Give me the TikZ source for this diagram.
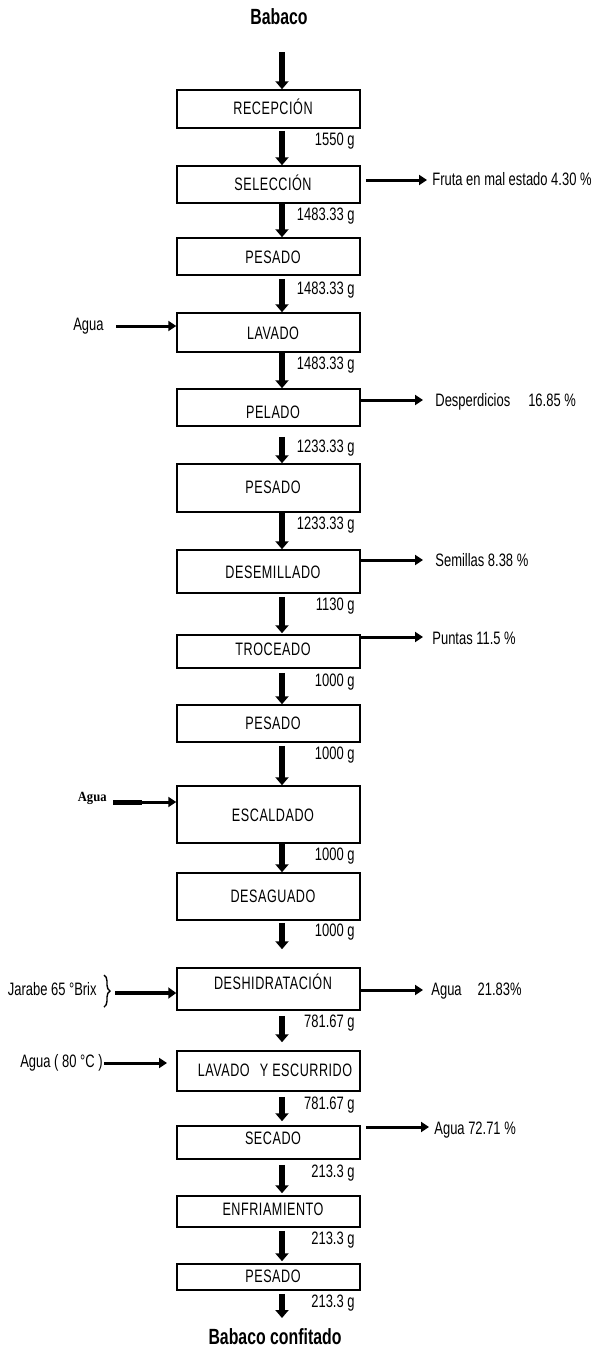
\documentclass[tikz,border=0pt]{standalone}
\usepackage{fontspec}
\setmainfont{Liberation Sans}[FakeStretch=0.72]
\newfontfamily\boxfont{Liberation Sans}[FakeStretch=0.7,LetterSpace=3]
\newfontfamily\agserif{Liberation Serif}[FakeStretch=0.9]
\usetikzlibrary{arrows.meta,calc,decorations.pathreplacing}
\begin{document}
\begin{tikzpicture}[x=0.5pt,y=-0.5pt,
  box/.style={draw, line width=0.75pt, inner sep=0, minimum width=91.5pt},
  btxt/.style={inner sep=0, font=\boxfont\fontsize{9}{10}\selectfont},
  lbl/.style={inner sep=0, anchor=east, text height=6.5pt, text depth=1.8pt, font=\fontsize{9}{10}\selectfont},
  stxt/.style={inner sep=0, anchor=west, text height=6.5pt, text depth=1.8pt, font=\fontsize{9}{10}\selectfont},
  ltxt/.style={inner sep=0, anchor=east, text height=6.5pt, text depth=1.8pt, font=\fontsize{9}{10}\selectfont},
  title/.style={inner sep=0, font=\fontsize{11}{13}\selectfont\bfseries},
  mainarrow/.style={line width=3pt, -{Triangle[width=6.5pt,length=4pt]}},
  sidearrow/.style={line width=1.5pt, -{Triangle[width=5pt,length=4pt]}},
  thickarrow/.style={line width=2.2pt, -{Triangle[width=5.5pt,length=4pt]}}]
\useasboundingbox (0,0) rectangle (600,1349);

% titles
\node[title] (top) at (279,17) {Babaco};
\node[title] (bottom) at (275,1337) {Babaco confitado};

% boxes
\node[box, minimum height=19pt]   (b1)  at (268.5,109)    {};
\node[box, minimum height=18.5pt] (b2)  at (268.5,184.5)  {};
\node[box, minimum height=18.5pt] (b3)  at (268.5,256.5)  {};
\node[box, minimum height=19.5pt] (b4)  at (268.5,332.5)  {};
\node[box, minimum height=18.5pt] (b5)  at (268.5,407.5)  {};
\node[box, minimum height=24pt]   (b6)  at (268.5,488)    {};
\node[box, minimum height=21.5pt] (b7)  at (268.5,571.5)  {};
\node[box, minimum height=16.5pt] (b8)  at (268.5,651.5)  {};
\node[box, minimum height=18.5pt] (b9)  at (268.5,723.5)  {};
\node[box, minimum height=28.5pt] (b10) at (268.5,814.5)  {};
\node[box, minimum height=23.5pt] (b11) at (268.5,896.5)  {};
\node[box, minimum height=21pt]   (b12) at (268.5,989)    {};
\node[box, minimum height=20pt]   (b13) at (268.5,1071)   {};
\node[box, minimum height=16.5pt] (b14) at (268.5,1142.5) {};
\node[box, minimum height=15.5pt] (b15) at (268.5,1211.5) {};
\node[box, minimum height=13pt]   (b16) at (268.5,1277)   {};

% box texts
\node[btxt] (t1)  at (273,107)  {RECEPCIÓN};
\node[btxt] (t2)  at (273,183)  {SELECCIÓN};
\node[btxt] (t3)  at (273,257)  {PESADO};
\node[btxt] (t4)  at (273,333)  {LAVADO};
\node[btxt] (t5)  at (273,412)  {PELADO};
\node[btxt] (t6)  at (273,487)  {PESADO};
\node[btxt] (t7)  at (273,572)  {DESEMILLADO};
\node[btxt] (t8)  at (273,649)  {TROCEADO};
\node[btxt] (t9)  at (273,723)  {PESADO};
\node[btxt] (t10) at (273,815)  {ESCALDADO};
\node[btxt] (t11) at (273,896)  {DESAGUADO};
\node[btxt] (t12) at (273,982)  {DESHIDRATACIÓN};
\node[btxt] (t13) at (275,1070) {LAVADO\hspace{3pt} Y ESCURRIDO};
\node[btxt] (t14) at (273,1138) {SECADO};
\node[btxt] (t15) at (273,1209) {ENFRIAMIENTO};
\node[btxt] (t16) at (273,1276) {PESADO};

% main flow arrows
\coordinate (in0) at (282,52);
\coordinate (out0) at (282,1318);
\draw[mainarrow] (in0) -- ($(b1.north)+(13.5,0)$);
\draw[mainarrow] ($(b1.south)+(13.5,2)$) -- ($(b2.north)+(13.5,0)$);
\draw[mainarrow] ($(b2.south)+(13.5,0)$) -- ($(b3.north)+(13.5,0)$);
\draw[mainarrow] ($(b3.south)+(13.5,3)$) -- ($(b4.north)+(13.5,0)$);
\draw[mainarrow] ($(b4.south)+(13.5,0)$) -- ($(b5.north)+(13.5,0)$);
\draw[mainarrow] ($(b5.south)+(13.5,10)$) -- ($(b6.north)+(13.5,0)$);
\draw[mainarrow] ($(b6.south)+(13.5,0)$) -- ($(b7.north)+(13.5,0)$);
\draw[mainarrow] ($(b7.south)+(13.5,3)$) -- ($(b8.north)+(13.5,-1)$);
\draw[mainarrow] ($(b8.south)+(13.5,4)$) -- ($(b9.north)+(13.5,0)$);
\draw[mainarrow] ($(b9.south)+(13.5,3)$) -- ($(b10.north)+(13.5,0)$);
\draw[mainarrow] ($(b10.south)+(13.5,0)$) -- ($(b11.north)+(13.5,0)$);
\draw[mainarrow] ($(b11.south)+(13.5,2)$) -- ($(b12.north)+(13.5,-18)$);
\draw[mainarrow] ($(b12.south)+(13.5,5)$) -- ($(b13.north)+(13.5,-8)$);
\draw[mainarrow] ($(b13.south)+(13.5,5)$) -- ($(b14.north)+(13.5,-4)$);
\draw[mainarrow] ($(b14.south)+(13.5,5)$) -- ($(b15.north)+(13.5,-2)$);
\draw[mainarrow] ($(b15.south)+(13.5,3)$) -- ($(b16.north)+(13.5,-2)$);
\draw[mainarrow] ($(b16.south)+(13.5,3)$) -- (out0);

% mass labels
\node[lbl] (m1)  at (355,141)  {1550 g};
\node[lbl] (m2)  at (355,216)  {1483.33 g};
\node[lbl] (m3)  at (355,290)  {1483.33 g};
\node[lbl] (m4)  at (355,365)  {1483.33 g};
\node[lbl] (m5)  at (355,448)  {1233.33 g};
\node[lbl] (m6)  at (355,525)  {1233.33 g};
\node[lbl] (m7)  at (355,606)  {1130 g};
\node[lbl] (m8)  at (355,682)  {1000 g};
\node[lbl] (m9)  at (355,755)  {1000 g};
\node[lbl] (m10) at (355,856)  {1000 g};
\node[lbl] (m11) at (355,932)  {1000 g};
\node[lbl] (m12) at (355,1023) {781.67 g};
\node[lbl] (m13) at (355,1105) {781.67 g};
\node[lbl] (m14) at (355,1173) {213.3 g};
\node[lbl] (m15) at (355,1240) {213.3 g};
\node[lbl] (m16) at (355,1303) {213.3 g};

% outputs on the right
\node[stxt] (w2)  at (432,181)  {Fruta en mal estado 4.30 \%};
\node[stxt] (w5)  at (435,402)  {Desperdicios\hspace{9pt}16.85 \%};
\node[stxt] (w7)  at (435,562)  {Semillas 8.38 \%};
\node[stxt] (w8)  at (432,640)  {Puntas 11.5 \%};
\node[stxt] (w12) at (431,991)  {Agua\hspace{8pt}21.83\%};
\node[stxt] (w14) at (434,1130) {Agua 72.71 \%};
\coordinate (a2)  at (427,180);
\coordinate (a5)  at (423,400);
\coordinate (a7)  at (423,560);
\coordinate (a8)  at (423,637);
\coordinate (a12) at (423,990);
\coordinate (a14) at (429,1127);
\draw[sidearrow] ([xshift=2.5pt]b2.east |- a2) -- (a2);
\draw[sidearrow] (b5.east |- a5) -- (a5);
\draw[sidearrow] (b7.east |- a7) -- (a7);
\draw[sidearrow] (b8.east |- a8) -- (a8);
\draw[sidearrow] (b12.east |- a12) -- (a12);
\draw[sidearrow] ([xshift=2.5pt]b14.east |- a14) -- (a14);

% inputs on the left
\node[ltxt] (g4) at (104,326) {Agua};
\coordinate (s4) at (116,326);
\draw[sidearrow] (s4) -- (b4.west |- s4);

\node[inner sep=0, anchor=east, font=\agserif\bfseries\fontsize{7}{8}\selectfont] (g10) at (107,798) {Agua};
\coordinate (s10) at (113,802);
\coordinate (s10b) at (142,802);
\draw[line width=2.5pt] (s10) -- (s10b);
\draw[sidearrow] (s10) -- (b10.west |- s10);

\node[ltxt] (g12) at (97,991) {Jarabe 65 °Brix};
\coordinate (br1) at (104,975);
\coordinate (br2) at (104,1007);
\draw[line width=0.7pt, decorate, decoration={brace, amplitude=3pt}] (br1) -- (br2);
\coordinate (s12) at (115,993);
\draw[thickarrow] (s12) -- (b12.west |- s12);

\node[ltxt] (g13) at (103,1063) {Agua ( 80 °C )};
\coordinate (s13) at (104,1063);
\coordinate (e13) at (167,1063);
\draw[sidearrow] (s13) -- (e13);
\end{tikzpicture}
\end{document}
